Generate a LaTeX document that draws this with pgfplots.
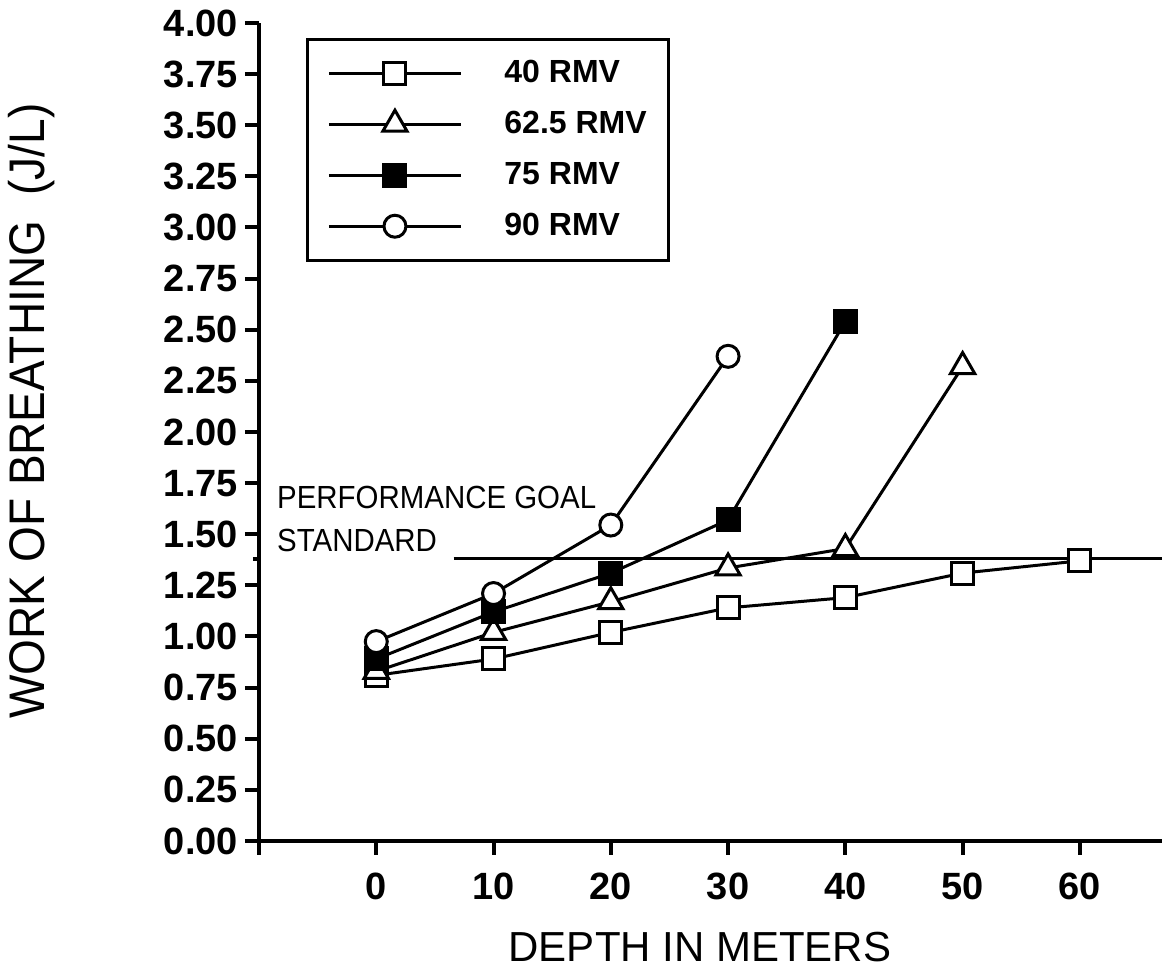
\documentclass[border=0pt]{standalone}
\usepackage{fontspec}
\setmainfont{Liberation Sans}
\newfontfamily\narrowfont[FakeStretch=0.92]{Liberation Sans}
\usepackage{pgfplots}
\pgfplotsset{compat=1.18}

\begin{document}
\begin{tikzpicture}
\begin{axis}[
  at={(0,0)}, anchor=south west,
  scale only axis, width=451.5pt, height=409pt,
  xmin=-10, xmax=67, ymin=0, ymax=4,
  axis x line=bottom, axis y line=left,
  axis line style={line width=2pt, -},
  xtick={-10,0,10,20,30,40,50,60},
  xticklabels={,0,10,20,30,40,50,60},
  ytick={0,0.25,...,4},
  extra y ticks={1.38}, extra y tick labels={},
  extra y tick style={major tick length=3pt},
  tick align=outside,
  major tick length=7pt,
  every tick/.style={black, line width=2pt},
  ticklabel style={font=\fontsize{19}{22}\selectfont\bfseries},
  xticklabel style={yshift=-5.5pt},
  /pgf/number format/assume math mode=true,
  yticklabel={\pgfmathprintnumber[fixed,fixed zerofill,precision=2]{\tick}},
  legend style={at={(rel axis cs:0.052,0.982)}, anchor=north west, draw=black,
    line width=1.5pt, fill=white, font=\fontsize{16}{19}\selectfont\bfseries,
    inner xsep=10pt, inner ysep=8.5pt, row sep=8.5pt,
    nodes={inner sep=1pt, text height=12pt, text depth=3pt}},
  legend cell align=left,
  legend image code/.code={\draw[mark repeat=2,mark phase=2,#1] plot coordinates {(0pt,0pt)(33pt,0pt)(66pt,0pt)}; \path (86pt,0pt);},
  every axis plot/.append style={line width=1.5pt, black, mark options={solid, line width=1.5pt}},
  clip=false,
]
\addplot[forget plot, line width=1.5pt] coordinates {(6.6,1.38) (67,1.38)};
\addplot[mark=square*, mark size=5.5pt, mark options={fill=white}] coordinates {
  (0,0.81) (10,0.89) (20,1.02) (30,1.14) (40,1.19) (50,1.31) (60,1.37)};
\addlegendentry{40 RMV}
\addplot[mark=triangle*, mark size=7pt, mark options={fill=white}] coordinates {
  (0,0.83) (10,1.02) (20,1.17) (30,1.335) (40,1.43) (50,2.32)};
\addlegendentry{62.5 RMV}
\addplot[mark=square*, mark size=5.5pt, mark options={fill=black}] coordinates {
  (0,0.89) (10,1.12) (20,1.31) (30,1.57) (40,2.54)};
\addlegendentry{75 RMV}
\addplot[mark=*, mark size=5.5pt, mark options={fill=white}] coordinates {
  (0,0.975) (10,1.21) (20,1.545) (30,2.37)};
\addlegendentry{90 RMV}
\node[anchor=west, font=\narrowfont\fontsize{16}{19}\selectfont] at (axis cs:-9.05,1.68) {PERFORMANCE GOAL};
\node[anchor=west, font=\narrowfont\fontsize{16}{19}\selectfont] at (axis cs:-9.05,1.47) {STANDARD};
\end{axis}
\node[rotate=90, font=\narrowfont\fontsize{25}{30}\selectfont] at (-113.5pt,215pt) {WORK OF BREATHING~~(J/L)};
\node[font=\fontsize{21}{25}\selectfont] at (220.5pt,-53pt) {DEPTH IN METERS};
\pgfresetboundingbox
\path[use as bounding box] (-129.5pt,-66pt) rectangle (451.5pt,420.5pt);
\end{tikzpicture}
\end{document}
